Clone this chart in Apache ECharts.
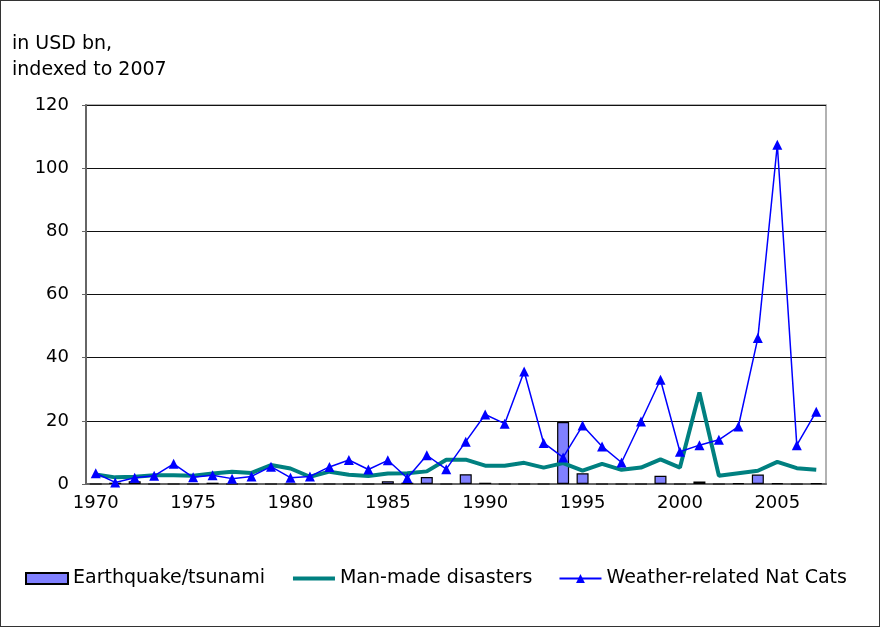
<!DOCTYPE html>
<html>
<head>
<meta charset="utf-8">
<script src="https://cdn.jsdelivr.net/npm/echarts@6/dist/echarts.min.js"></script>
<style>
html,body{margin:0;padding:0;background:#fff;}
#c{width:880px;height:627px;box-sizing:border-box;border:1px solid #333;}
</style>
</head>
<body>
<div id="c"></div>
<script>
var years = ['1970','1971','1972','1973','1974','1975','1976','1977','1978','1979',
  '1980','1981','1982','1983','1984','1985','1986','1987','1988','1989',
  '1990','1991','1992','1993','1994','1995','1996','1997','1998','1999',
  '2000','2001','2002','2003','2004','2005','2006','2007'];
var earthquake = [0, 0.4, 0.9, 0, 0, 0, 0.4, 0, 0, 0,
  0, 0, 0, 0, 0, 0.9, 0.4, 2.2, 0, 3.1,
  0.4, 0, 0, 0, 19.6, 3.4, 0, 0, 0, 2.6,
  0, 0.8, 0, 0.3, 3.0, 0.3, 0, 0.3];
var manMade = [3.0, 2.1, 2.3, 2.8, 2.8, 2.6, 3.3, 3.9, 3.5, 6.0,
  4.9, 2.3, 3.9, 2.9, 2.5, 3.3, 3.4, 4.0, 7.7, 7.7,
  5.8, 5.8, 6.7, 5.2, 6.6, 4.2, 6.4, 4.5, 5.2, 7.8,
  5.2, 29.0, 2.6, 3.4, 4.2, 7.0, 5.0, 4.5];
var weather = [3.4, 0.5, 2.0, 2.6, 6.4, 2.1, 2.8, 1.7, 2.4, 5.5,
  2.0, 2.4, 5.4, 7.6, 4.6, 7.5, 1.9, 9.1, 4.7, 13.4,
  22.0, 19.1, 35.6, 13.0, 8.4, 18.5, 11.9, 6.8, 19.8, 33.0,
  10.2, 12.3, 14.0, 18.2, 46.2, 107.4, 12.3, 22.9];
var yTicks = [0, 20, 40, 60, 80, 100, 120];
var unitLines = ['in USD bn,', 'indexed to 2007'];

var FONT = 'DejaVu Sans';
var FS = 18;
var LFS = 19;
var chart = echarts.init(document.getElementById('c'), null, {renderer: 'canvas'});
chart.setOption({
  animation: false,
  backgroundColor: '#fff',
  textStyle: {fontFamily: FONT, color: '#000'},
  graphic: [
    {type: 'text', left: 11, top: 34, style: {text: unitLines[0], font: LFS + 'px "DejaVu Sans"', fill: '#000'}},
    {type: 'text', left: 11, top: 60, style: {text: unitLines[1], font: LFS + 'px "DejaVu Sans"', fill: '#000'}}
  ],
  grid: {left: 85, right: 53, top: 104, bottom: 142, show: true, borderColor: '#999', borderWidth: 1.5},
  legend: {
    top: 563, left: 19, itemGap: 26, itemWidth: 42, itemHeight: 11,
    textStyle: {fontFamily: FONT, fontSize: LFS, color: '#000'},
    data: [
      {name: 'Earthquake/tsunami', icon: 'rect'},
      {name: 'Man-made disasters', itemStyle: {color: 'rgba(0,0,0,0)', borderWidth: 0}, lineStyle: {width: 4, color: '#008080'}},
      {name: 'Weather-related Nat Cats', lineStyle: {width: 2, color: '#0000FF'}}
    ]
  },
  xAxis: {
    type: 'category', data: years, boundaryGap: true,
    axisLine: {lineStyle: {color: '#666', width: 2}},
    axisTick: {interval: 4, length: 6, lineStyle: {color: '#666', width: 1.5}},
    axisLabel: {interval: 4, margin: 10, fontSize: FS, color: '#000', fontFamily: FONT},
    splitLine: {show: false}
  },
  yAxis: {
    type: 'value', min: 0, max: 120, interval: 20,
    axisLine: {show: true, lineStyle: {color: '#666', width: 2}},
    axisTick: {show: true, length: 4, lineStyle: {color: '#666'}},
    axisLabel: {margin: 17, fontSize: FS, color: '#000', fontFamily: FONT},
    splitLine: {lineStyle: {color: '#111', width: 1}}
  },
  series: [
    {name: 'Earthquake/tsunami', type: 'bar', data: earthquake, barWidth: 12,
     itemStyle: {color: '#8080FF', borderColor: '#000', borderWidth: 1.2}, z: 2},
    {name: 'Man-made disasters', type: 'line', data: manMade, symbol: 'none',
     lineStyle: {color: '#008080', width: 4}, itemStyle: {color: '#008080'}, z: 3},
    {name: 'Weather-related Nat Cats', type: 'line', data: weather, symbol: 'triangle', symbolSize: 10,
     lineStyle: {color: '#0000FF', width: 1.5}, itemStyle: {color: '#0000FF'}, z: 4}
  ]
});
</script>
</body>
</html>
